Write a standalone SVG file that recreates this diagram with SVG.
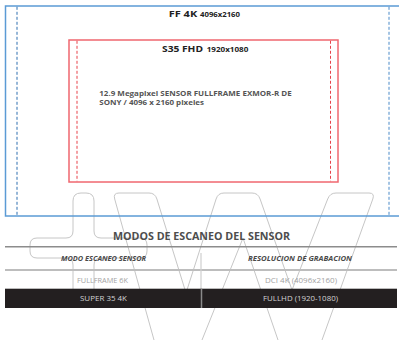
<svg xmlns="http://www.w3.org/2000/svg" width="399" height="340" viewBox="0 0 399 340">
<style>
.wm{fill:none;stroke:#c6c6c6;stroke-width:1}
.b{font-family:"Open Sans","Liberation Sans",sans-serif;font-weight:bold}
.r{font-family:"Open Sans","Liberation Sans",sans-serif}
.hd{font-size:6.6px;font-weight:bold;font-style:italic;fill:#4a4a4a;text-anchor:middle}
.row{font-size:7px;fill:#a3a3a3;text-anchor:middle}
.bar{font-size:7px;fill:#d4d4d4;text-anchor:middle}
</style>
<rect width="399" height="340" fill="#ffffff"/>
<g id="watermark">
<path class="wm" d="M73,289 V265 Q73,258 66,258 H37 Q30,258 30,251 V245 Q30,238 37,238 H66 Q73,238 73,231 V201 Q73,193 81,193 H86 Q94,193 94,201 V231 Q94,238 101,238 H140 Q147,238 147,245 V251 Q147,258 140,258 H101 Q94,258 94,265 V289"/>
<path class="wm" d="M154,340 L114.7,199 Q113,193 119,193 H149 Q155,193 156.9,199 L186,293 L216.1,199 Q218,193 224,193 H252 Q258,193 260.1,199 L292,290 L327.7,199 Q330,193 336,193 H369 Q375,193 372.8,199 L322,340"/>
<path class="wm" d="M202,340 L243,238 L278,340"/>
</g>
<g id="ff4k">
<rect x="5.5" y="6" width="400" height="210" fill="none" stroke="#5b9bd5" stroke-width="1.5"/>
<line x1="17" y1="6.8" x2="17" y2="215" stroke="#2f6fb0" stroke-width="1" stroke-dasharray="3,2"/>
<line x1="389" y1="6.8" x2="389" y2="215" stroke="#4a8ac8" stroke-width="1" stroke-dasharray="3,2"/>
<text class="b" x="168.7" y="16.7" font-size="9.5" fill="#222" textLength="28.5" lengthAdjust="spacingAndGlyphs">FF 4K</text>
<text class="b" x="200" y="16.7" font-size="7" fill="#222" textLength="40" lengthAdjust="spacingAndGlyphs">4096x2160</text>
</g>
<g id="s35fhd">
<rect x="69" y="40" width="269" height="142" fill="none" stroke="#f0676f" stroke-width="1.5"/>
<line x1="77" y1="40.8" x2="77" y2="181.2" stroke="#e8424a" stroke-width="1" stroke-dasharray="3,2"/>
<line x1="330.5" y1="40.8" x2="330.5" y2="181.2" stroke="#e8424a" stroke-width="1" stroke-dasharray="3,2"/>
<text class="b" x="162" y="51.7" font-size="9.5" fill="#222" textLength="41" lengthAdjust="spacingAndGlyphs">S35 FHD</text>
<text class="b" x="206.7" y="51.7" font-size="7" fill="#222" textLength="41.6" lengthAdjust="spacingAndGlyphs">1920x1080</text>
<text class="b" x="99.3" y="95.7" font-size="7.2" fill="#555" textLength="192.4" lengthAdjust="spacingAndGlyphs">12.9 Megapixel SENSOR FULLFRAME EXMOR-R DE</text>
<text class="b" x="99.3" y="104.5" font-size="7.2" fill="#555" textLength="104.7" lengthAdjust="spacingAndGlyphs">SONY / 4096 x 2160 pixeles</text>
</g>
<g id="table">
<text class="b" x="113" y="240" font-size="11" fill="#4d4d4d" textLength="177" lengthAdjust="spacingAndGlyphs">MODOS DE ESCANEO DEL SENSOR</text>
<line x1="5" y1="246.7" x2="397" y2="246.7" stroke="#8c8c8c" stroke-width="1.5"/>
<text class="r hd" x="103.5" y="261" textLength="85" lengthAdjust="spacingAndGlyphs">MODO ESCANEO SENSOR</text>
<text class="r hd" x="300" y="261" textLength="104" lengthAdjust="spacingAndGlyphs">RESOLUCION DE GRABACION</text>
<line x1="5" y1="270" x2="397" y2="270" stroke="#bdbdbd" stroke-width="2"/>
<line x1="201" y1="253" x2="201" y2="289" stroke="#cfcfcf" stroke-width="1.2"/>
<text class="r row" x="102.5" y="283" textLength="51" lengthAdjust="spacingAndGlyphs">FULLFRAME 6K</text>
<text class="r row" x="301" y="283" textLength="72" lengthAdjust="spacingAndGlyphs">DCI 4K (4096x2160)</text>
<rect x="5" y="288.7" width="392" height="19.3" fill="#231f20"/>
<line x1="201.5" y1="288.7" x2="201.5" y2="308" stroke="#8a8a8a" stroke-width="1.5"/>
<text class="r bar" x="103.5" y="301.3" textLength="47" lengthAdjust="spacingAndGlyphs">SUPER 35 4K</text>
<text class="r bar" x="300.5" y="301.3" textLength="75" lengthAdjust="spacingAndGlyphs">FULLHD (1920-1080)</text>
</g>
</svg>
